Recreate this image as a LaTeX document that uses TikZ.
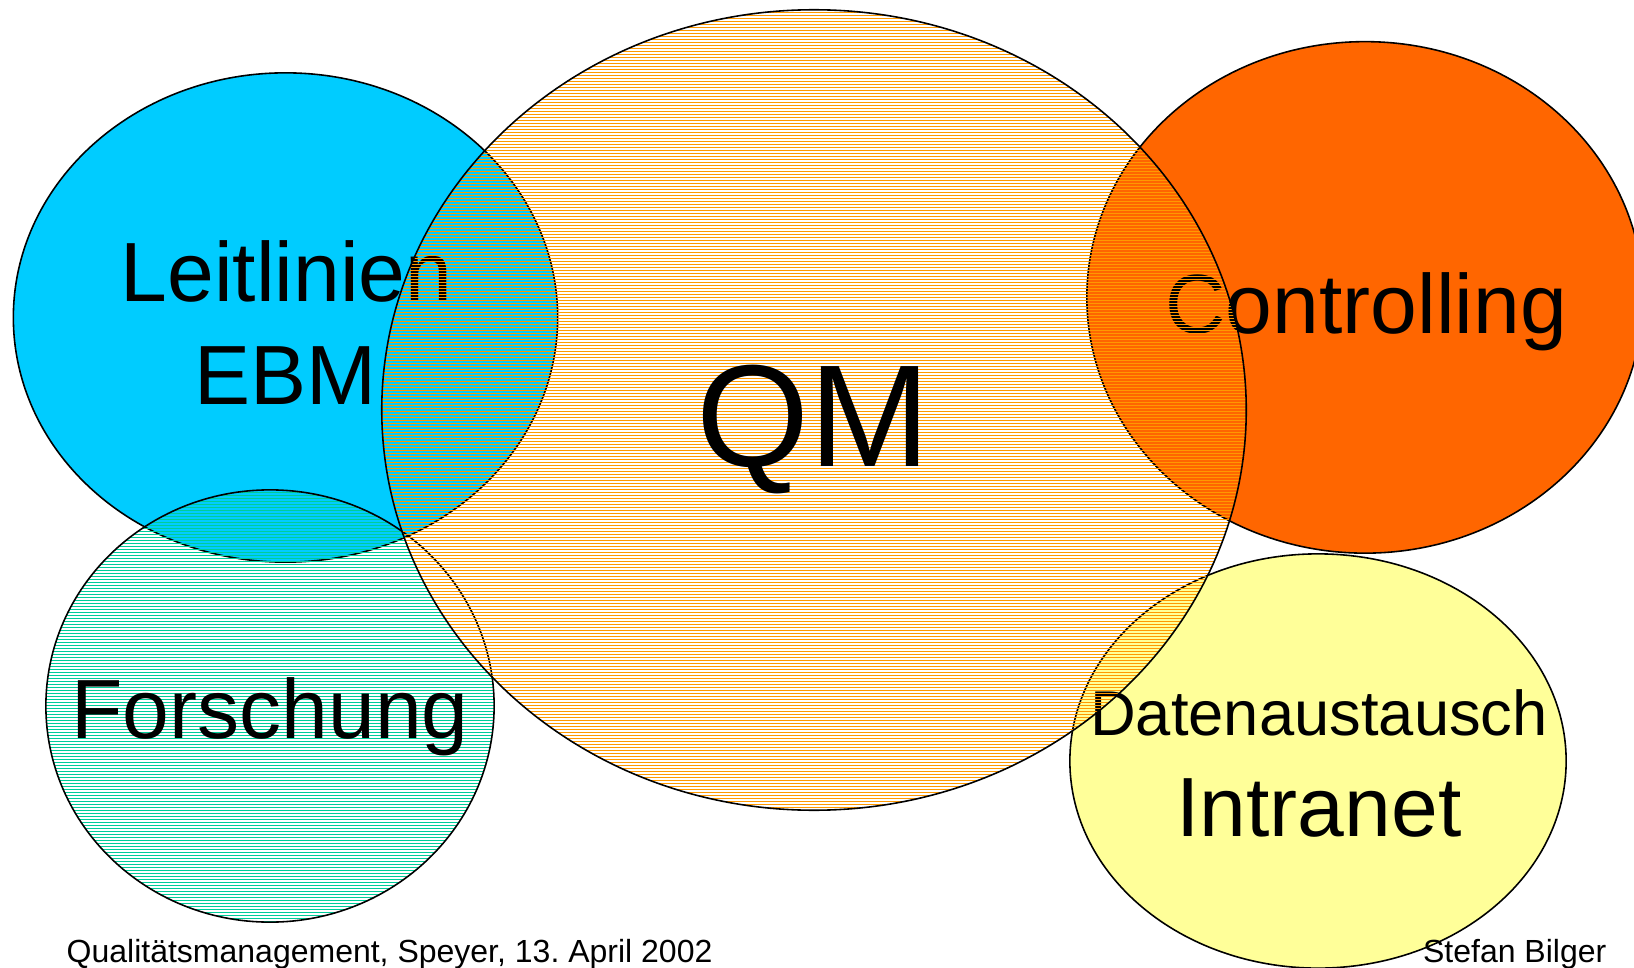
\documentclass[tikz,border=0pt]{standalone}
\usepackage{fontspec}
\setmainfont{Liberation Sans}
\frenchspacing
\definecolor{cblue}{HTML}{00CCFF}
\definecolor{corange}{HTML}{FF6600}
\definecolor{cyellow}{HTML}{FFFF99}
\definecolor{hatchorange}{HTML}{FF9900}
\definecolor{hatchgreen}{HTML}{00CC99}
\begin{document}
\begin{tikzpicture}[x=0.01cm,y=-0.01cm]
\tikzset{
  outl/.style={draw=black,line width=0.45pt},
  lbl/.style={anchor=base,inner sep=0pt,font=\fontsize{23.9pt}{28pt}\selectfont},
  midlbl/.style={anchor=base,inner sep=0pt,font=\fontsize{18pt}{21pt}\selectfont},
  biglbl/.style={anchor=base,inner sep=0pt,font=\fontsize{41.3pt}{48pt}\selectfont},
  footlbl/.style={inner sep=0pt,font=\fontsize{9.1pt}{11pt}\selectfont},
  hatchO/.style={draw=hatchorange,line width=0.38pt},
  hatchG/.style={draw=hatchgreen,line width=0.3pt}
}
\useasboundingbox (0,0) rectangle (1634,967);
\fill[white] (0,0) rectangle (1634,967);
% Leitlinien / EBM
\path[outl,fill=cblue] (285.5,317.5) ellipse [x radius=2.72cm,y radius=2.445cm];
\node[lbl] (leit) at (286.5,302) {Leitlinien};
\node[lbl] (ebm) at (285.5,404) {EBM};
% Controlling
\path[outl,fill=corange] (1365,297.4) ellipse [x radius=2.78cm,y radius=2.556cm];
\node[lbl] (contr) at (1366,333.5) {Controlling};
% Datenaustausch / Intranet
\path[outl,fill=cyellow] (1318,761) ellipse [x radius=2.48cm,y radius=2.07cm];
\node[midlbl] (daten) at (1319,735) {Datenaustausch};
\node[lbl] (intra) at (1319,836) {Intranet};
% Forschung (green hatching)
\begin{scope}
\clip (270,706) ellipse [x radius=2.24cm,y radius=2.16cm];
\path[hatchG] \foreach \i in {162,...,308} {(40,{\i*3+0.5}) -- (500,{\i*3+0.5})};
\end{scope}
\path[outl] (270,706) ellipse [x radius=2.24cm,y radius=2.16cm];
\node[lbl] (forsch) at (270,738) {Forschung};
% QM (orange hatching)
\begin{scope}
\clip (814,410) ellipse [x radius=4.32cm,y radius=4.00cm];
\path[hatchO] \foreach \i in {2,...,271} {(375,{\i*3+0.5}) -- (1255,{\i*3+0.5})};
\end{scope}
\path[outl] (814,410) ellipse [x radius=4.32cm,y radius=4.00cm];
\node[biglbl] (qm) at (813,466) {QM};
% footer
\node[footlbl,anchor=base west] (foot) at (66,962) {Qualitätsmanagement, Speyer, 13. April 2002};
\node[footlbl,anchor=base east] (auth) at (1607,962) {Stefan Bilger};
\end{tikzpicture}
\end{document}
